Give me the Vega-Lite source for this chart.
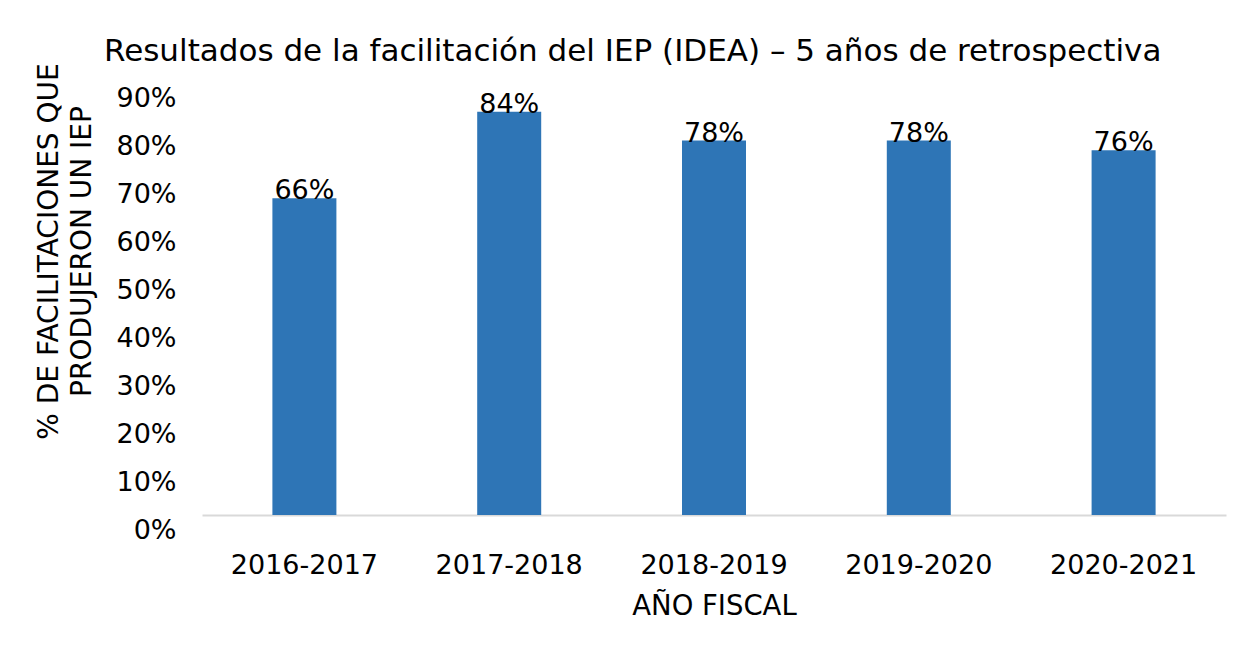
{
  "$schema": "https://vega.github.io/schema/vega-lite/v6.json",
  "width": 1024,
  "height": 432,
  "autosize": {"type": "none"},
  "padding": {"left": 202, "top": 83, "right": 26, "bottom": 131},
  "background": "white",
  "title": {
    "text": "Resultados de la facilitación del IEP (IDEA) – 5 años de retrospectiva",
    "anchor": "start",
    "frame": "group",
    "dx": -98,
    "dy": 50,
    "fontSize": 31,
    "font": "DejaVu Sans",
    "fontWeight": "normal",
    "color": "#000000",
    "baseline": "alphabetic",
    "offset": 21
  },
  "data": {
    "values": [
      {"year": "2016-2017", "value": 0.66},
      {"year": "2017-2018", "value": 0.84},
      {"year": "2018-2019", "value": 0.78},
      {"year": "2019-2020", "value": 0.78},
      {"year": "2020-2021", "value": 0.76}
    ]
  },
  "encoding": {
    "x": {
      "field": "year",
      "type": "nominal",
      "sort": null,
      "scale": {"paddingInner": 0.6875, "paddingOuter": 0.34375},
      "axis": {
        "title": "AÑO FISCAL",
        "labelAngle": 0,
        "ticks": false,
        "domainColor": "#d9d9d9",
        "domainWidth": 2,
        "labelPadding": 37,
        "labelBaseline": "top",
        "labelFontSize": 27,
        "labelFont": "DejaVu Sans",
        "labelColor": "#000000",
        "titleFontSize": 27.5,
        "titleFont": "DejaVu Sans",
        "titleFontWeight": "normal",
        "titleColor": "#000000",
        "titlePadding": 14
      }
    },
    "y": {
      "field": "value",
      "type": "quantitative",
      "scale": {"domain": [0, 0.9], "nice": false},
      "axis": {
        "format": ".0%",
        "values": [0, 0.1, 0.2, 0.3, 0.4, 0.5, 0.6, 0.7, 0.8, 0.9],
        "grid": false,
        "domain": false,
        "ticks": false,
        "labelPadding": 26,
        "labelOffset": 15,
        "labelFontSize": 27,
        "labelFont": "DejaVu Sans",
        "labelColor": "#000000",
        "title": ["% DE FACILITACIONES QUE", "PRODUJERON UN IEP"],
        "titleFontSize": 28,
        "titleFont": "DejaVu Sans",
        "titleFontWeight": "normal",
        "titleColor": "#000000",
        "titleLineHeight": 33,
        "titleAngle": -90,
        "titleAlign": "center",
        "titleBaseline": "middle",
        "titleX": -153,
        "titleY": 168
      }
    }
  },
  "layer": [
    {"mark": {"type": "bar", "color": "#2E75B6"}},
    {
      "mark": {"type": "text", "baseline": "alphabetic", "dy": 1, "fontSize": 27, "font": "DejaVu Sans", "color": "#000000"},
      "encoding": {"text": {"field": "value", "type": "quantitative", "format": ".0%"}}
    }
  ],
  "config": {"view": {"stroke": null}}
}
